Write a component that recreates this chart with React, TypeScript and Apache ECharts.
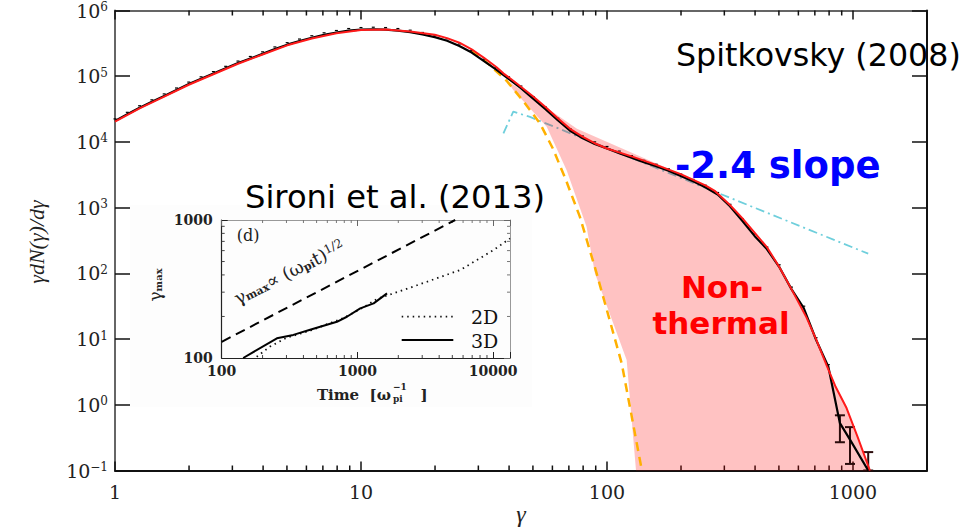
import { useEffect, useRef } from 'react';
import * as echarts from 'echarts';

// ---------- main panel data (log10 values) ----------
const mainXRange = [1, 2000];
const mainYRange = [0.1, 1e6];
const decades = [1, 10, 100, 1000];
const minorMultipliers = [2, 3, 4, 5, 6, 7, 8, 9];

// black simulation spectrum
const blackLogG = [
  0.0, 0.05, 0.1, 0.15, 0.2, 0.25, 0.3, 0.35, 0.4, 0.45, 0.5, 0.55, 0.6, 0.65, 0.7, 0.75, 0.8, 0.85,
  0.9, 0.95, 1.0, 1.05, 1.1, 1.15, 1.2, 1.25, 1.3, 1.35, 1.4, 1.45, 1.5, 1.55, 1.6, 1.65, 1.7, 1.75,
  1.8, 1.85, 1.9, 1.95, 2.0, 2.05, 2.1, 2.15, 2.2, 2.25, 2.3, 2.35, 2.4, 2.45, 2.5, 2.55, 2.6, 2.65,
  2.7, 2.75, 2.8, 2.85, 2.9, 2.947, 2.988, 3.062,
];
const blackLogV = [
  4.32, 4.42, 4.52, 4.61, 4.7, 4.79, 4.88, 4.96, 5.04, 5.12, 5.2, 5.27, 5.34, 5.415, 5.48, 5.535, 5.585, 5.63,
  5.665, 5.695, 5.71, 5.715, 5.71, 5.695, 5.67, 5.635, 5.595, 5.54, 5.46, 5.36, 5.23, 5.1, 4.96, 4.82, 4.66, 4.5,
  4.33, 4.17, 4.06, 3.97, 3.9, 3.83, 3.76, 3.69, 3.63, 3.56, 3.48, 3.4, 3.31, 3.2, 3.02, 2.8, 2.57, 2.37,
  2.1, 1.76, 1.47, 0.99, 0.58, -0.28, -0.53, -1.0,
];
// large error bars at the high-energy tail
const tailErrLogG = [2.947, 2.988, 3.062];
const tailErrLoLogV = [-0.57, -0.9, -1.0];
const tailErrHiLogV = [-0.16, -0.34, -0.72];

// red fit (Maxwellian + power law)
const redLogG = [
  0.0, 0.1, 0.2, 0.3, 0.4, 0.5, 0.6, 0.7, 0.8, 0.9, 1.0, 1.1, 1.2, 1.3, 1.35, 1.4, 1.45, 1.5, 1.55, 1.58,
  1.619, 1.65, 1.7, 1.75, 1.8, 1.85, 1.9, 1.95, 2.0, 2.1, 2.2, 2.3, 2.4, 2.44, 2.5, 2.55, 2.6, 2.65, 2.7,
  2.75, 2.811, 2.85, 2.893, 2.93, 2.974, 3.02, 3.069,
];
const redLogV = [
  4.31, 4.51, 4.69, 4.87, 5.03, 5.19, 5.33, 5.47, 5.575, 5.655, 5.705, 5.71, 5.68, 5.63, 5.58, 5.51, 5.41, 5.28, 5.14, 5.04,
  4.93, 4.84, 4.69, 4.53, 4.36, 4.2, 4.08, 3.98, 3.9, 3.78, 3.65, 3.51, 3.34, 3.25, 3.04, 2.84, 2.62, 2.4, 2.1,
  1.76, 1.33, 1.0, 0.6, 0.27, -0.05, -0.5, -1.0,
];

// orange dashed Maxwellian
const maxwLogG = [1.45, 1.52, 1.592, 1.66, 1.728, 1.78, 1.83, 1.89, 1.958, 2.06, 2.142];
const maxwLogV = [5.4, 5.18, 4.93, 4.62, 4.28, 3.9, 3.45, 2.86, 2.0, 0.63, -1.0];

// cyan dash-dot power-law guide
const slopeLogG = [1.579, 1.619, 1.687, 3.062];
const slopeLogV = [4.13, 4.46, 4.38, 2.3];

// pink non-thermal region outline
const fillLogG = [
  1.592, 1.878, 2.366, 2.446, 2.514, 2.595, 2.676, 2.744, 2.811, 2.893, 2.974, 3.069,
  2.118, 2.08, 1.951, 1.917, 1.836, 1.755, 1.619,
];
const fillLogV = [
  4.94, 4.2, 3.4, 3.22, 2.96, 2.61, 2.25, 1.8, 1.315, 0.578, -0.03, -1.0,
  -1.0, 0.68, 2.0, 2.71, 3.57, 4.23, 4.79,
];

// ---------- inset data ----------
const insetXRange = [100, 13300];
const insetYRange = [100, 1000];
const insetLawT = [100, 5250];
const insetLawG = [131, 1000];
const inset3dT = [144, 255, 337, 448, 706, 836, 1049, 1316, 1652];
const inset3dG = [100, 139, 147, 160, 183, 199, 229, 249, 294];
const inset2dT = [181, 227, 300, 450, 800, 1100, 1393, 1849, 3258, 5740, 10100, 13300];
const inset2dG = [102, 121, 140, 158, 196, 232, 268, 294, 357, 435, 607, 736];

const pow10 = (v: number) => Math.pow(10, v);
const logPairs = (xs: number[], ys: number[]) => xs.map((x, i) => [pow10(x), pow10(ys[i])]);
const pairs = (xs: number[], ys: number[]) => xs.map((x, i) => [x, ys[i]]);
const isPow10 = (v: number) => Math.abs(Math.log10(v) - Math.round(Math.log10(v))) < 1e-6;

const SERIF = 'DejaVu Serif';
const SANS = 'DejaVu Sans';

export default function App() {
  const ref = useRef<HTMLDivElement>(null);

  useEffect(() => {
    if (!ref.current) return;
    const chart = echarts.init(ref.current, null, { renderer: 'svg' });

    const mainMinor = decades
      .flatMap((d) => minorMultipliers.map((m) => d * m))
      .filter((v) => v < mainXRange[1]);
    const insetMinor = [100, 1000, 10000]
      .flatMap((d) => minorMultipliers.map((m) => d * m))
      .filter((v) => v < insetXRange[1]);
    const insetYMinor = minorMultipliers.map((m) => 100 * m);

    const axisCommon = {
      type: 'log' as const,
      logBase: 10,
      splitLine: { show: false },
    };

    const yLabelRich = {
      b: { fontFamily: SERIF, fontSize: 19, color: '#222' },
      s: { fontFamily: SERIF, fontSize: 12, color: '#222', verticalAlign: 'top' as const },
    };

    const option: any = {
      animation: false,
      backgroundColor: '#ffffff',
      grid: [
        { left: 115, top: 10.5, width: 812, height: 460, outerBoundsMode: 'none', containLabel: false },
        { left: 221.7, top: 220, width: 288.3, height: 138, outerBoundsMode: 'none', containLabel: false },
      ],
      xAxis: [
        {
          ...axisCommon,
          gridIndex: 0,
          position: 'bottom',
          min: mainXRange[0],
          max: mainXRange[1],
          axisLine: { lineStyle: { color: '#111', width: 2 } },
          axisTick: { inside: true, length: 9, lineStyle: { color: '#111', width: 1.5 } },
          axisLabel: {
            fontFamily: SERIF,
            fontSize: 19,
            color: '#222',
            margin: 12,
            formatter: (v: number) => (isPow10(v) ? String(Math.round(v)) : ''),
          },
        },
        {
          ...axisCommon,
          gridIndex: 0,
          position: 'top',
          min: mainXRange[0],
          max: mainXRange[1],
          axisLine: { lineStyle: { color: '#333', width: 1.5 } },
          axisTick: { inside: true, length: 9, lineStyle: { color: '#111', width: 1.5 } },
          axisLabel: { show: false },
        },
        {
          ...axisCommon,
          gridIndex: 1,
          position: 'bottom',
          min: insetXRange[0],
          max: insetXRange[1],
          axisLine: { lineStyle: { color: '#222', width: 1.2 } },
          axisTick: { inside: true, length: 6, lineStyle: { color: '#222', width: 1 } },
          axisLabel: {
            fontFamily: SERIF,
            fontWeight: 'bold',
            fontSize: 14,
            color: '#222',
            margin: 6,
            formatter: (v: number) => (isPow10(v) ? String(Math.round(v)) : ''),
          },
        },
        {
          ...axisCommon,
          gridIndex: 1,
          position: 'top',
          min: insetXRange[0],
          max: insetXRange[1],
          axisLine: { lineStyle: { color: '#999', width: 1 } },
          axisTick: { inside: true, length: 6, lineStyle: { color: '#666', width: 1 } },
          axisLabel: { show: false },
        },
      ],
      yAxis: [
        {
          ...axisCommon,
          gridIndex: 0,
          position: 'left',
          min: mainYRange[0],
          max: mainYRange[1],
          axisLine: { lineStyle: { color: '#666', width: 2 } },
          axisTick: { inside: true, length: 15, lineStyle: { color: '#111', width: 1.5 } },
          axisLabel: {
            margin: 7,
            formatter: (v: number) => {
              const e = Math.round(Math.log10(v));
              return `{b|10}{s|${e < 0 ? '\u2212' + -e : e}}`;
            },
            rich: yLabelRich,
          },
        },
        {
          ...axisCommon,
          gridIndex: 0,
          position: 'right',
          min: mainYRange[0],
          max: mainYRange[1],
          axisLine: { lineStyle: { color: '#111', width: 2 } },
          axisTick: { inside: true, length: 15, lineStyle: { color: '#111', width: 1.5 } },
          axisLabel: { show: false },
        },
        {
          ...axisCommon,
          gridIndex: 1,
          position: 'left',
          min: insetYRange[0],
          max: insetYRange[1],
          axisLine: { lineStyle: { color: '#222', width: 1.2 } },
          axisTick: { inside: true, length: 6, lineStyle: { color: '#222', width: 1 } },
          axisLabel: {
            fontFamily: SERIF,
            fontWeight: 'bold',
            fontSize: 14,
            color: '#222',
            margin: 9,
            formatter: (v: number) => (isPow10(v) ? String(Math.round(v)) : ''),
          },
        },
        {
          ...axisCommon,
          gridIndex: 1,
          position: 'right',
          min: insetYRange[0],
          max: insetYRange[1],
          axisLine: { lineStyle: { color: '#999', width: 1 } },
          axisTick: { inside: true, length: 6, lineStyle: { color: '#666', width: 1 } },
          axisLabel: { show: false },
        },
      ],
      series: [
        // minor ticks, main panel
        {
          type: 'custom',
          xAxisIndex: 0,
          yAxisIndex: 0,
          silent: true,
          clip: false,
          z: 1,
          data: [[mainXRange[0], mainYRange[0]]],
          renderItem: (params: any, api: any) => {
            if (params.dataIndex !== 0) return null;
            const children: any[] = [];
            mainMinor.forEach((v) => {
              const b = api.coord([v, mainYRange[0]]);
              const t = api.coord([v, mainYRange[1]]);
              children.push({ type: 'line', shape: { x1: b[0], y1: b[1], x2: b[0], y2: b[1] - 5 }, style: { stroke: '#111', lineWidth: 1.5 } });
              children.push({ type: 'line', shape: { x1: t[0], y1: t[1], x2: t[0], y2: t[1] + 5 }, style: { stroke: '#111', lineWidth: 1.5 } });
            });
            return { type: 'group', children };
          },
        },
        // cyan dash-dot slope guide
        {
          type: 'line',
          xAxisIndex: 0,
          yAxisIndex: 0,
          showSymbol: false,
          z: 2,
          data: logPairs(slopeLogG, slopeLogV),
          lineStyle: { color: '#6fcfdc', width: 1.8, type: [9, 4, 2, 4] },
        },
        // pink non-thermal area
        {
          type: 'custom',
          xAxisIndex: 0,
          yAxisIndex: 0,
          silent: true,
          z: 3,
          data: [[pow10(fillLogG[0]), pow10(fillLogV[0])]],
          renderItem: (params: any, api: any) => {
            if (params.dataIndex !== 0) return null;
            const pts = fillLogG.map((g, i) => api.coord([pow10(g), pow10(fillLogV[i])]));
            return { type: 'polygon', shape: { points: pts }, style: { fill: 'rgba(255,0,0,0.24)', stroke: 'none' } };
          },
        },
        // orange dashed Maxwellian
        {
          type: 'line',
          xAxisIndex: 0,
          yAxisIndex: 0,
          showSymbol: false,
          z: 4,
          data: logPairs(maxwLogG, maxwLogV),
          lineStyle: { color: '#ffb000', width: 2.5, type: [9, 6] },
        },
        // black data
        {
          type: 'line',
          xAxisIndex: 0,
          yAxisIndex: 0,
          showSymbol: false,
          z: 5,
          data: logPairs(blackLogG, blackLogV),
          lineStyle: { color: '#000', width: 2.2 },
        },
        // small error caps on black data
        {
          type: 'custom',
          xAxisIndex: 0,
          yAxisIndex: 0,
          silent: true,
          z: 5,
          data: logPairs(blackLogG.slice(0, blackLogG.length - 3), blackLogV.slice(0, blackLogV.length - 3)),
          renderItem: (params: any, api: any) => {
            const p = api.coord([api.value(0), api.value(1)]);
            return {
              type: 'line',
              shape: { x1: p[0] - 1.5, y1: p[1] - 2, x2: p[0] + 1.5, y2: p[1] - 2 },
              style: { stroke: '#000', lineWidth: 1.2 },
            };
          },
        },
        // large tail error bars
        {
          type: 'custom',
          xAxisIndex: 0,
          yAxisIndex: 0,
          silent: true,
          z: 5,
          data: tailErrLogG.map((g, i) => [pow10(g), pow10(tailErrLoLogV[i]), pow10(tailErrHiLogV[i])]),
          renderItem: (params: any, api: any) => {
            const lo = api.coord([api.value(0), api.value(1)]);
            const hi = api.coord([api.value(0), api.value(2)]);
            const st = { stroke: '#2b0b0b', lineWidth: 2 };
            return {
              type: 'group',
              children: [
                { type: 'line', shape: { x1: lo[0], y1: lo[1], x2: hi[0], y2: hi[1] }, style: st },
                { type: 'line', shape: { x1: lo[0] - 5, y1: lo[1], x2: lo[0] + 5, y2: lo[1] }, style: st },
                { type: 'line', shape: { x1: hi[0] - 5, y1: hi[1], x2: hi[0] + 5, y2: hi[1] }, style: st },
              ],
            };
          },
        },
        // red fit
        {
          type: 'line',
          xAxisIndex: 0,
          yAxisIndex: 0,
          showSymbol: false,
          z: 6,
          data: logPairs(redLogG, redLogV),
          lineStyle: { color: '#ff1a1a', width: 2 },
        },
        // inset minor ticks
        {
          type: 'custom',
          xAxisIndex: 2,
          yAxisIndex: 2,
          silent: true,
          clip: false,
          z: 3,
          data: [[insetXRange[0], insetYRange[0]]],
          renderItem: (params: any, api: any) => {
            if (params.dataIndex !== 0) return null;
            const children: any[] = [];
            insetMinor.forEach((v) => {
              const b = api.coord([v, insetYRange[0]]);
              const t = api.coord([v, insetYRange[1]]);
              children.push({ type: 'line', shape: { x1: b[0], y1: b[1], x2: b[0], y2: b[1] - 3 }, style: { stroke: '#444', lineWidth: 1 } });
              children.push({ type: 'line', shape: { x1: t[0], y1: t[1], x2: t[0], y2: t[1] + 3 }, style: { stroke: '#777', lineWidth: 1 } });
            });
            insetYMinor.forEach((v) => {
              const l = api.coord([insetXRange[0], v]);
              const r = api.coord([insetXRange[1], v]);
              children.push({ type: 'line', shape: { x1: l[0], y1: l[1], x2: l[0] + 3, y2: l[1] }, style: { stroke: '#444', lineWidth: 1 } });
              children.push({ type: 'line', shape: { x1: r[0], y1: r[1], x2: r[0] - 3, y2: r[1] }, style: { stroke: '#777', lineWidth: 1 } });
            });
            return { type: 'group', children };
          },
        },
        // inset: gamma_max ∝ t^1/2 dashed
        {
          type: 'line',
          xAxisIndex: 2,
          yAxisIndex: 2,
          showSymbol: false,
          z: 4,
          data: pairs(insetLawT, insetLawG),
          lineStyle: { color: '#000', width: 2, type: [10, 6] },
        },
        // inset: 2D dotted
        {
          type: 'line',
          xAxisIndex: 2,
          yAxisIndex: 2,
          showSymbol: false,
          z: 4,
          data: pairs(inset2dT, inset2dG),
          lineStyle: { color: '#111', width: 1.8, type: [1.5, 4] },
        },
        // inset: 3D solid
        {
          type: 'line',
          xAxisIndex: 2,
          yAxisIndex: 2,
          showSymbol: false,
          z: 5,
          data: pairs(inset3dT, inset3dG),
          lineStyle: { color: '#000', width: 2 },
        },
      ],
      graphic: [
        { type: 'rect', z: -1, silent: true, shape: { x: 130, y: 205, width: 402, height: 202 }, style: { fill: '#fdfdfd' } },
        // legend of inset
        { type: 'line', z: 10, shape: { x1: 401.7, y1: 316.7, x2: 453.3, y2: 316.7 }, style: { stroke: '#111', lineWidth: 1.8, lineDash: [1.5, 4] } },
        { type: 'line', z: 10, shape: { x1: 401.7, y1: 340, x2: 453.3, y2: 340 }, style: { stroke: '#000', lineWidth: 2 } },
        { type: 'text', z: 10, x: 471, y: 317, style: { text: '2D', font: `19px "${SERIF}"`, fill: '#111', align: 'left', verticalAlign: 'middle' } },
        { type: 'text', z: 10, x: 471, y: 341, style: { text: '3D', font: `19px "${SERIF}"`, fill: '#111', align: 'left', verticalAlign: 'middle' } },
        { type: 'text', z: 10, x: 248, y: 235, style: { text: '(d)', font: `16px "${SERIF}"`, fill: '#222', align: 'center', verticalAlign: 'middle' } },
        {
          type: 'text', z: 10, x: 155, y: 285, rotation: Math.PI / 2,
          style: {
            text: '{g|γ}{s|max}', align: 'center', verticalAlign: 'middle',
            rich: { g: { fontFamily: SERIF, fontSize: 17, fill: '#222' }, s: { fontFamily: SERIF, fontWeight: 'bold', fontSize: 10, fill: '#222', verticalAlign: 'bottom' } },
          },
        },
        {
          type: 'text', z: 10, x: 289, y: 272, rotation: 0.468,
          style: {
            text: '{g|γ}{sub|max}{g|∝ (ω}{sub|pi}{g|t)}{sup|1/2}', align: 'center', verticalAlign: 'middle',
            rich: {
              g: { fontFamily: SERIF, fontSize: 18, fill: '#222' },
              sub: { fontFamily: SERIF, fontWeight: 'bold', fontSize: 11, fill: '#222', verticalAlign: 'bottom' },
              sup: { fontFamily: SERIF, fontSize: 12, fill: '#222', verticalAlign: 'top' },
            },
          },
        },
        { type: 'text', z: 10, x: 391, y: 395, style: { text: 'Time  [ω', font: `bold 15px "${SERIF}"`, fill: '#222', align: 'right', verticalAlign: 'middle' } },
        { type: 'text', z: 10, x: 393, y: 387, style: { text: '\u22121', font: `bold 9px "${SERIF}"`, fill: '#222', align: 'left', verticalAlign: 'middle' } },
        { type: 'text', z: 10, x: 393, y: 399, style: { text: 'pi', font: `bold 9px "${SERIF}"`, fill: '#222', align: 'left', verticalAlign: 'middle' } },
        { type: 'text', z: 10, x: 424, y: 395, style: { text: ']', font: `bold 15px "${SERIF}"`, fill: '#222', align: 'center', verticalAlign: 'middle' } },
        // axis titles
        { type: 'text', z: 10, x: 36, y: 242, rotation: Math.PI / 2, style: { text: 'γdN(γ)/dγ', font: `italic 22px "Liberation Serif"`, fill: '#222', align: 'center', verticalAlign: 'middle' } },
        { type: 'text', z: 10, x: 521, y: 514, style: { text: 'γ', font: `italic 24px "Liberation Serif"`, fill: '#222', align: 'center', verticalAlign: 'middle' } },
        // annotations
        { type: 'text', z: 20, x: 676, y: 55, style: { text: 'Spitkovsky (2008)', font: `31.7px "${SANS}"`, fill: '#000', align: 'left', verticalAlign: 'middle' } },
        { type: 'text', z: 20, x: 245, y: 197, style: { text: 'Sironi et al. (2013)', font: `32.2px "${SANS}"`, fill: '#000', align: 'left', verticalAlign: 'middle' } },
        { type: 'text', z: 20, x: 675, y: 165, style: { text: '-2.4 slope', font: `bold 37px "${SANS}"`, fill: '#0000ff', align: 'left', verticalAlign: 'middle' } },
        { type: 'text', z: 20, x: 722, y: 287, style: { text: 'Non-', font: `bold 31px "${SANS}"`, fill: '#ff0000', align: 'center', verticalAlign: 'middle' } },
        { type: 'text', z: 20, x: 721, y: 323, style: { text: 'thermal', font: `bold 31px "${SANS}"`, fill: '#ff0000', align: 'center', verticalAlign: 'middle' } },
      ],
    };

    chart.setOption(option);
    return () => chart.dispose();
  }, []);

  return (
    <div
      ref={ref}
      style={{ position: 'absolute', left: 0, top: 0, width: 969, height: 527, background: '#fff' }}
    />
  );
}
